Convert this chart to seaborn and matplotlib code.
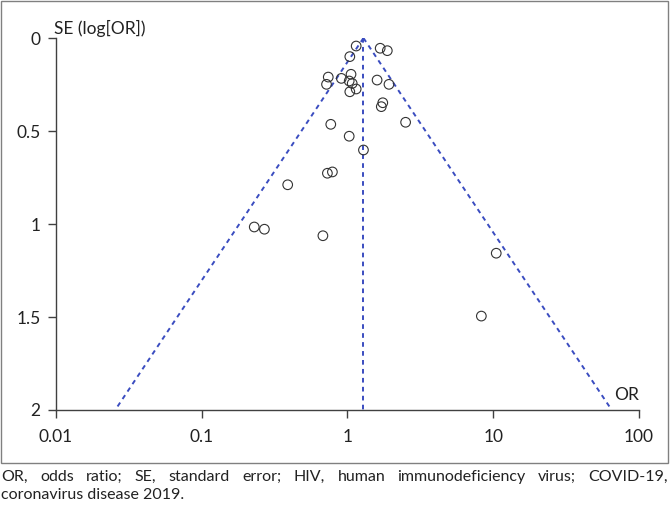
import numpy as np
import pandas as pd
import seaborn as sns
import matplotlib.pyplot as plt
from matplotlib.patches import Rectangle

# study estimates
odds_ratio = [1.15, 1.68, 1.88, 1.04, 0.74, 1.06, 0.91, 0.72, 1.03, 1.08,
              1.15, 1.04, 1.60, 1.93, 1.75, 1.71, 0.77, 2.51, 1.03, 1.29,
              0.73, 0.79, 0.39, 0.23, 0.27, 0.68, 10.5, 8.3]
std_err = [0.043, 0.055, 0.068, 0.10, 0.21, 0.195, 0.217, 0.249, 0.231, 0.244,
           0.274, 0.289, 0.226, 0.249, 0.348, 0.369, 0.464, 0.453, 0.528, 0.602,
           0.727, 0.72, 0.789, 1.016, 1.028, 1.063, 1.157, 1.495]

pooled_or = 1.29
se_limits = [0.0, 2.0]

x_ticks = [0.01, 0.1, 1, 10, 100]
x_tick_labels = ['0.01', '0.1', '1', '10', '100']
y_ticks = [0, 0.5, 1, 1.5, 2]
y_tick_labels = ['0', '0.5', '1', '1.5', '2']

caption_line1 = ['OR,', 'odds', 'ratio;', 'SE,', 'standard', 'error;', 'HIV,', 'human',
                 'immunodeficiency', 'virus;', 'COVID-19,']
caption_line2 = 'coronavirus disease 2019.'

df = pd.DataFrame({'OR': odds_ratio, 'SE': std_err})

sns.set_style('white')
plt.rcParams['font.family'] = ['Lato', 'DejaVu Sans']

fig = plt.figure(figsize=(6.7, 5.09), dpi=100)
ax = fig.add_axes([0.0831, 0.1945, 0.8706, 0.7308])

# funnel: pooled estimate +/- 1.96 SE
se_line = np.array(se_limits)
lower = np.exp(np.log(pooled_or) - 1.96 * se_line)
upper = np.exp(np.log(pooled_or) + 1.96 * se_line)
line_kw = dict(color='#3a4cc0', lw=1.4, dashes=(2.4, 2.2), estimator=None, sort=False)
sns.lineplot(x=lower, y=se_line, ax=ax, **line_kw)
sns.lineplot(x=upper, y=se_line, ax=ax, **line_kw)
sns.lineplot(x=[pooled_or, pooled_or], y=se_line, ax=ax, **line_kw)

sns.scatterplot(data=df, x='OR', y='SE', ax=ax, s=48, facecolor='none',
                edgecolor='#333333', linewidth=0.8, zorder=3)

ax.set_xscale('log')
ax.set_xlim(0.01, 100)
ax.set_ylim(2, 0)
ax.set_xticks(x_ticks)
ax.set_xticklabels(x_tick_labels)
ax.set_yticks(y_ticks)
ax.set_yticklabels(y_tick_labels)
ax.minorticks_off()
ax.tick_params(axis='both', direction='out', length=6, width=1, color='#404040',
               labelsize=12.5, labelcolor='#222222', left=True, bottom=True)
ax.tick_params(axis='x', pad=8)
ax.tick_params(axis='y', pad=5)
ax.set_xlabel('')
ax.set_ylabel('')
for side in ['top', 'right']:
    ax.spines[side].set_visible(False)
for side in ['left', 'bottom']:
    ax.spines[side].set_color('#404040')
    ax.spines[side].set_linewidth(1)

fig.text(54 / 670, 1 - 28 / 509, 'SE (log[OR])', fontsize=12.5, color='#222222',
         ha='left', va='center')
fig.text(639 / 670, 1 - 395 / 509, 'OR', fontsize=12.5, color='#222222',
         ha='right', va='center')

# frame around the figure panel
fig.patches.append(Rectangle((0.0015, 1 - 463 / 509), 0.996, 463 / 509 - 0.002,
                             transform=fig.transFigure, fill=False,
                             edgecolor='#808080', lw=1))

# justified caption, first line
fig.canvas.draw()
renderer = fig.canvas.get_renderer()
y1 = 1 - 477 / 509
texts = [fig.text(0, y1, w, fontsize=11.5, color='#222222', va='center') for w in caption_line1]
widths = [t.get_window_extent(renderer).width for t in texts]
left_px, right_px = 1, 668
gap = (right_px - left_px - sum(widths)) / (len(widths) - 1)
pos = left_px
for t, w in zip(texts, widths):
    t.set_x(pos / 670)
    pos += w + gap
fig.text(1 / 670, 1 - 495 / 509, caption_line2, fontsize=11.5, color='#222222', va='center')

fig.savefig('out.png', dpi=100)
